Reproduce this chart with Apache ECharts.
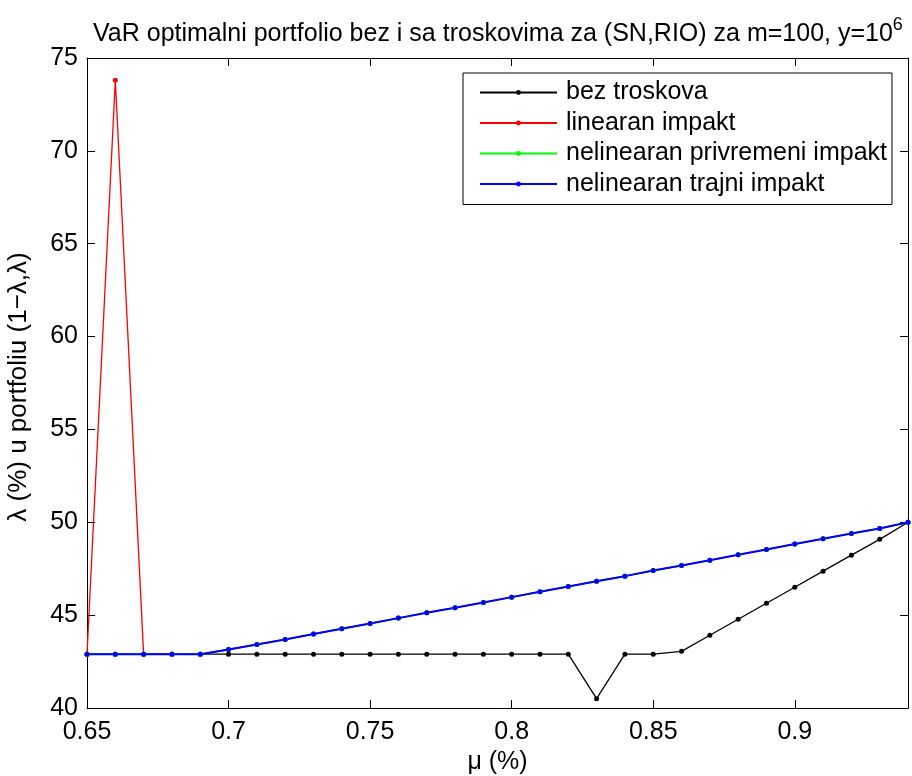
<!DOCTYPE html>
<html>
<head>
<meta charset="utf-8">
<script src="https://cdn.jsdelivr.net/npm/echarts@6/dist/echarts.min.js"></script>
<style>html,body{margin:0;padding:0;background:#fff;}#c{width:912px;height:776px;}</style>
</head>
<body>
<div id="c"></div>
<script>
const muValues = [0.65,0.66,0.67,0.68,0.69,0.70,0.71,0.72,0.73,0.74,0.75,0.76,0.77,0.78,0.79,0.80,0.81,0.82,0.83,0.84,0.85,0.86,0.87,0.88,0.89,0.90,0.91,0.92,0.93,0.94];
const bezTroskova = [42.9,42.9,42.9,42.9,42.9,42.9,42.9,42.9,42.9,42.9,42.9,42.9,42.9,42.9,42.9,42.9,42.9,42.9,40.5,42.9,42.9,43.05,43.92,44.78,45.64,46.5,47.37,48.23,49.08,50.0];
const linearanImpakt = [42.9,73.8,42.9,42.9,42.9,43.15,43.42,43.69,43.98,44.27,44.55,44.84,45.13,45.40,45.68,45.97,46.26,46.54,46.83,47.10,47.40,47.67,47.96,48.25,48.54,48.83,49.11,49.40,49.67,50.0];
const nelinPrivremeni = [42.9,42.9,42.9,42.9,42.9,43.15,43.42,43.69,43.98,44.27,44.55,44.84,45.13,45.40,45.68,45.97,46.26,46.54,46.83,47.10,47.40,47.67,47.96,48.25,48.54,48.83,49.11,49.40,49.67,50.0];
const nelinTrajni = [42.9,42.9,42.9,42.9,42.9,43.15,43.42,43.69,43.98,44.27,44.55,44.84,45.13,45.40,45.68,45.97,46.26,46.54,46.83,47.10,47.40,47.67,47.96,48.25,48.54,48.83,49.11,49.40,49.67,50.0];
const seriesNames = ['bez troskova','linearan impakt','nelinearan privremeni impakt','nelinearan trajni impakt'];
const seriesColors = ['#000000','#ff0000','#00ff00','#0000ff'];
const seriesData = [bezTroskova, linearanImpakt, nelinPrivremeni, nelinTrajni];

const FONT = "'Liberation Sans', Arial, Helvetica, sans-serif";
const FS = 25;
const chart = echarts.init(document.getElementById('c'), null, {renderer:'canvas'});

const series = seriesData.map((vals, i) => ({
  name: seriesNames[i],
  type: 'line',
  data: muValues.map((m, k) => [m, vals[k]]),
  symbol: 'circle',
  symbolSize: 5,
  showSymbol: true,
  clip: false,
  lineStyle: {color: seriesColors[i], width: i === 3 ? 2 : 1.3},
  itemStyle: {color: seriesColors[i]},
  emphasis: {disabled: true},
  animation: false
}));

const tickCommon = {inside: true, length: 8, lineStyle: {color: '#000', width: 1}};

chart.setOption({
  animation: false,
  backgroundColor: '#fff',
  textStyle: {fontFamily: FONT},
  title: {
    text: 'VaR optimalni portfolio bez i sa troskovima za (SN,RIO) za m=100, y=10{sup|6}',
    left: 88,
    top: 11,
    textStyle: {
      fontFamily: FONT, fontSize: FS, fontWeight: 'normal', color: '#000',
      rich: {sup: {fontFamily: FONT, fontSize: 18, color: '#000', padding: [0,0,18,0]}}
    }
  },
  legend: {
    orient: 'vertical',
    left: 463,
    top: 73,
    padding: [7, 5, 8, 16],
    itemWidth: 77,
    itemHeight: 6,
    itemGap: 5.5,
    backgroundColor: '#fff',
    borderColor: '#000',
    borderWidth: 1,
    borderRadius: 0,
    data: seriesNames,
    textStyle: {fontFamily: FONT, fontSize: FS, color: '#000', padding: [0,0,0,4]}
  },
  grid: {left: 87, right: 4, top: 58, bottom: 68, containLabel: false, outerBoundsMode: 'none'},
  xAxis: [{
    type: 'value', min: 0.65, max: 0.94, interval: 0.05,
    name: 'μ (%)', nameLocation: 'middle', nameGap: 40,
    nameTextStyle: {fontFamily: FONT, fontSize: FS, color: '#000'},
    axisLine: {show: true, onZero: false, lineStyle: {color: '#000', width: 1}},
    axisTick: tickCommon,
    axisLabel: {fontFamily: FONT, fontSize: FS, color: '#000', margin: 12, showMaxLabel: false},
    splitLine: {show: false}
  }, {
    type: 'value', position: 'top', min: 0.65, max: 0.94, interval: 0.05,
    axisLine: {show: true, onZero: false, lineStyle: {color: '#000', width: 1}},
    axisTick: tickCommon,
    axisLabel: {show: false},
    splitLine: {show: false}
  }],
  yAxis: [{
    type: 'value', min: 40, max: 75, interval: 5,
    name: 'λ (%) u portfoliu (1−λ,λ)', nameLocation: 'middle', nameGap: 55,
    nameTextStyle: {fontFamily: FONT, fontSize: 26, color: '#000', padding: [0, 8, 0, 0]},
    axisLine: {show: true, onZero: false, lineStyle: {color: '#000', width: 1}},
    axisTick: tickCommon,
    axisLabel: {fontFamily: FONT, fontSize: FS, color: '#000', margin: 9},
    splitLine: {show: false}
  }, {
    type: 'value', position: 'right', min: 40, max: 75, interval: 5,
    axisLine: {show: true, onZero: false, lineStyle: {color: '#000', width: 1}},
    axisTick: tickCommon,
    axisLabel: {show: false},
    splitLine: {show: false}
  }],
  series: series
});
</script>
</body>
</html>
